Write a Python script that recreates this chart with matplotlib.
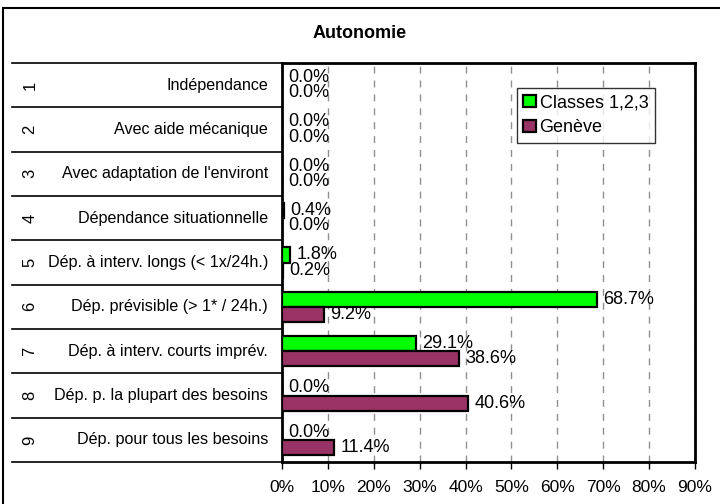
import matplotlib.pyplot as plt
import matplotlib.transforms as mtransforms
from matplotlib.patches import Rectangle, Patch

plt.rcParams['font.family'] = ['Liberation Sans', 'DejaVu Sans']

# data
numbers = ["1", "2", "3", "4", "5", "6", "7", "8", "9"]
categories = ["Indépendance", "Avec aide mécanique", "Avec adaptation de l'environt",
              "Dépendance situationnelle", "Dép. à interv. longs (< 1x/24h.)",
              "Dép. prévisible (> 1* / 24h.)", "Dép. à interv. courts imprév.",
              "Dép. p. la plupart des besoins", "Dép. pour tous les besoins"]
classes = [0.0, 0.0, 0.0, 0.4, 1.8, 68.7, 29.1, 0.0, 0.0]
geneve = [0.0, 0.0, 0.0, 0.0, 0.2, 9.2, 38.6, 40.6, 11.4]
xticks = [0, 10, 20, 30, 40, 50, 60, 70, 80, 90]

W, H = 720, 504
fig = plt.figure(figsize=(W / 100, H / 100), dpi=100)
ax = fig.add_axes([282 / W, 1 - 462 / H, (695 - 282) / W, (462 - 63) / H])

pos = list(range(len(categories)))
bh = 0.34
green_y = [p - bh / 2 for p in pos]
purple_y = [p + bh / 2 for p in pos]
ax.barh(green_y, classes, height=bh, color="#00FF00", edgecolor="black", linewidth=1.6,
        label="Classes 1,2,3", zorder=3)
ax.barh(purple_y, geneve, height=bh, color="#993366", edgecolor="black", linewidth=1.6,
        label="Genève", zorder=3)

for ys, vals in ((green_y, classes), (purple_y, geneve)):
    for y, v in zip(ys, vals):
        ax.annotate(f"{v:.1f}%", (v, y), xytext=(4.5, 0), textcoords="offset points",
                    ha="left", va="center", fontsize=13, zorder=4)

ax.set_xlim(0, 90)
ax.set_ylim(len(categories) - 0.5, -0.5)
ax.set_xticks(xticks)
ax.set_xticklabels([f"{t}%" for t in xticks], fontsize=12.5)
ax.tick_params(axis="x", direction="out", length=5, width=1, pad=8)
ax.set_yticks([])
ax.xaxis.grid(True, color="#909090", linestyle=(0, (5, 5)), linewidth=1)
ax.set_axisbelow(True)
for s in ax.spines.values():
    s.set_linewidth(2)

# category axis: rotated numbers, labels, separator lines
trans = mtransforms.blended_transform_factory(fig.transFigure, ax.transData)
for k in range(len(categories) + 1):
    ax.plot([12 / W, 282 / W], [k - 0.5, k - 0.5], color="black", lw=1.2,
            transform=trans, clip_on=False)
for p, n, c in zip(pos, numbers, categories):
    ax.text(30 / W, p, n, rotation=90, ha="center", va="center", fontsize=12,
            transform=trans)
    ax.text(268 / W, p, c, ha="right", va="center", fontsize=11.6, transform=trans)

fig.text(0.5, 1 - 33 / H, "Autonomie", ha="center", va="center", fontsize=13,
         fontweight="bold")

leg = ax.legend(handles=[Patch(facecolor="#00FF00", edgecolor="black", lw=1.6, label="Classes 1,2,3"),
                         Patch(facecolor="#993366", edgecolor="black", lw=1.6, label="Genève")],
                loc="upper left", bbox_to_anchor=((517 - 282) / (695 - 282), 1 - (88 - 63) / (462 - 63)),
                fontsize=13, frameon=True, fancybox=False, edgecolor="black",
                handlelength=0.7, handleheight=0.7, handletextpad=0.2, borderpad=0.35,
                labelspacing=0.45, borderaxespad=0)
leg.get_frame().set_linewidth(1)
leg.set_zorder(5)

# outer chart border (cut off at right and bottom)
fig.patches.append(Rectangle((3 / W, -0.1), 1.2, 1 - 8 / H + 0.1, fill=False,
                             edgecolor="black", lw=1.5, transform=fig.transFigure))

fig.savefig("out.png", dpi=100)
